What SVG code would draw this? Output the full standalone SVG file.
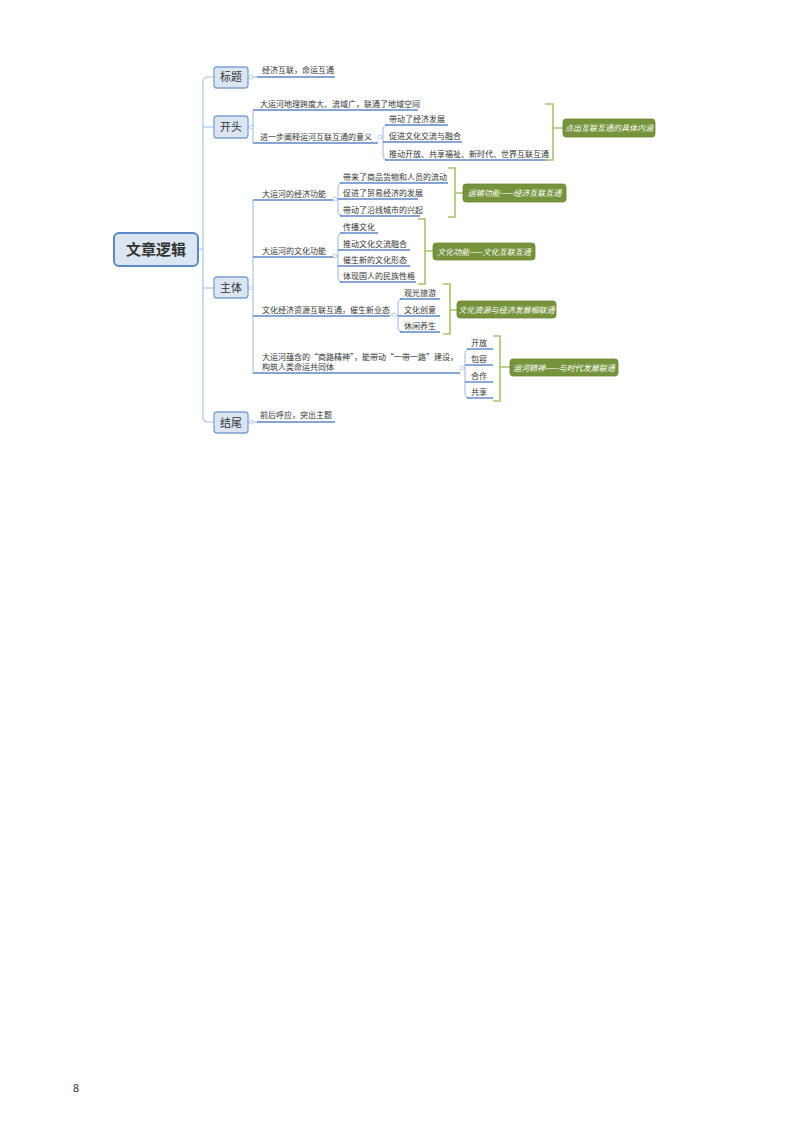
<svg xmlns="http://www.w3.org/2000/svg" width="800" height="1132" viewBox="0 0 800 1132">
<style>
text{font-family:"Noto Sans CJK SC","Noto Sans",sans-serif;fill:#333}
.t{font-size:8px}
.n{font-size:11px;text-anchor:middle}
.l1{fill:#dce6f2;stroke:#7aa0d4;stroke-width:1.3}
.ul{stroke:#5b87c9;stroke-width:1.4;fill:none}
.br{stroke:#a9c3e6;stroke-width:1.2;fill:none}
.gb{stroke:#a8c46c;stroke-width:1.6;fill:none}
.gl{fill:#77933c;stroke:#6a8533;stroke-width:0.8}
.gt{font-size:8px;fill:#fff;font-style:italic;text-anchor:middle}
.c{fill:#fff;stroke:#a9c3e6;stroke-width:0.8}
</style>
<rect width="800" height="1132" fill="#fff"/>
<g id="connectors">
<path class="br" d="M214 77 H208 Q203 77 203 82 V417 Q203 422 208 422 H214"/>
<path class="br" d="M198 249 H203"/>
<path class="br" d="M203 127 H214"/>
<path class="br" d="M203 288 H214"/>
<path class="br" d="M248 77 H257"/>
<path class="br" d="M248 127 H253 M253 110 V143"/>
<path class="br" d="M248 422 H257"/>
<path class="br" d="M248 288 H253 M253 200 V373"/>
<path class="br" d="M378 137 H383 M388 125 Q383 125 383 130 V155 Q383 160 388 160"/>
<path class="br" d="M333 199 H338 M343 183 Q338 183 338 188 V211 Q338 216 343 216"/>
<path class="br" d="M333 256 H338 M343 233 Q338 233 338 238 V277 Q338 282 343 282"/>
<path class="br" d="M390 315 H398 M403 299 Q398 299 398 304 V327 Q398 332 403 332"/>
<path class="br" d="M460 368 H465 M470 349 Q465 349 465 354 V393 Q465 398 470 398"/>
<path class="ul" d="M257 77 H335"/>
<path class="ul" d="M253 110 H418"/>
<path class="ul" d="M253 143 H378"/>
<path class="ul" d="M385 125 H448"/>
<path class="ul" d="M383 142 H462"/>
<path class="ul" d="M385 160 H547"/>
<path class="ul" d="M253 200 H333"/>
<path class="ul" d="M340 183 H448"/>
<path class="ul" d="M338 199 H418"/>
<path class="ul" d="M340 216 H420"/>
<path class="ul" d="M253 257 H333"/>
<path class="ul" d="M340 233 H378"/>
<path class="ul" d="M338 250 H410"/>
<path class="ul" d="M338 266 H410"/>
<path class="ul" d="M340 282 H416"/>
<path class="ul" d="M253 316 H390"/>
<path class="ul" d="M400 299 H440"/>
<path class="ul" d="M398 316 H440"/>
<path class="ul" d="M400 332 H440"/>
<path class="ul" d="M253 373 H460"/>
<path class="ul" d="M467 349 H493"/>
<path class="ul" d="M465 365 H493"/>
<path class="ul" d="M465 382 H493"/>
<path class="ul" d="M467 398 H493"/>
<path class="ul" d="M257 422 H335"/>
<path class="gb" d="M545 104 H553 V160 H545 M553 128 H563"/>
<path class="gb" d="M448 168 H455 V217 H448 M455 193 H463"/>
<path class="gb" d="M418 219 H425 V284 H418 M425 251 H433"/>
<path class="gb" d="M443 284 H450 V334 H443 M450 310 H457"/>
<path class="gb" d="M493 336 H500 V401 H493 M500 367 H510"/>
<circle class="c" cx="251" cy="77" r="2"/>
<circle class="c" cx="251" cy="127" r="2"/>
<circle class="c" cx="251" cy="288" r="2"/>
<circle class="c" cx="251" cy="422" r="2"/>
<circle class="c" cx="380" cy="137" r="2"/>
<circle class="c" cx="335" cy="199" r="2"/>
<circle class="c" cx="335" cy="256" r="2"/>
<circle class="c" cx="394" cy="315" r="2"/>
<circle class="c" cx="462" cy="368" r="2"/>
</g>
<g id="root">
<rect x="114" y="233" width="84" height="33" rx="5" fill="#dce6f2" stroke="#5b87c9" stroke-width="2"/>
<text x="156" y="255" font-size="15" font-weight="bold" text-anchor="middle" fill="#1f3864">文章逻辑</text>
</g>
<g id="n-title">
<rect class="l1" x="214" y="67" width="34" height="21" rx="3"/>
<text class="n" x="231" y="81">标题</text>
<text class="t" x="262" y="73">经济互联，命运互通</text>
</g>
<g id="n-open">
<rect class="l1" x="214" y="116" width="34" height="22" rx="3"/>
<text class="n" x="231" y="131">开头</text>
<text class="t" x="260" y="107">大运河地理跨度大、流域广，联通了地域空间</text>
<text class="t" x="260" y="140">进一步阐释运河互联互通的意义</text>
<text class="t" x="389" y="122">带动了经济发展</text>
<text class="t" x="389" y="139">促进文化交流与融合</text>
<text class="t" x="389" y="157">推动开放、共享福祉、新时代、世界互联互通</text>
<rect class="gl" x="563" y="119" width="92" height="18" rx="3"/>
<text class="gt" x="609" y="131">点出互联互通的具体内涵</text>
</g>
<g id="n-body">
<rect class="l1" x="214" y="277" width="34" height="21" rx="3"/>
<text class="n" x="231" y="292">主体</text>
<text class="t" x="262" y="197">大运河的经济功能</text>
<text class="t" x="343" y="180">带来了商品货物和人员的流动</text>
<text class="t" x="343" y="196">促进了贸易经济的发展</text>
<text class="t" x="343" y="213">带动了沿线城市的兴起</text>
<rect class="gl" x="463" y="184" width="103" height="18" rx="3"/>
<text class="gt" x="514.5" y="196">运输功能——经济互联互通</text>
<text class="t" x="262" y="254">大运河的文化功能</text>
<text class="t" x="343" y="230">传播文化</text>
<text class="t" x="343" y="247">推动文化交流融合</text>
<text class="t" x="343" y="263">催生新的文化形态</text>
<text class="t" x="343" y="279">体现国人的民族性格</text>
<rect class="gl" x="433" y="243" width="102" height="17" rx="3"/>
<text class="gt" x="484" y="255">文化功能——文化互联互通</text>
<text class="t" x="262" y="313">文化经济资源互联互通，催生新业态</text>
<text class="t" x="404" y="296">观光旅游</text>
<text class="t" x="404" y="313">文化创意</text>
<text class="t" x="404" y="329">休闲养生</text>
<rect class="gl" x="457" y="301" width="99" height="17" rx="3"/>
<text class="gt" x="506.5" y="313">文化资源与经济发展相联通</text>
<text class="t" x="262" y="360">大运河蕴含的“商路精神”，能带动“一带一路”建设，</text>
<text class="t" x="262" y="370">构筑人类命运共同体</text>
<text class="t" x="471" y="346">开放</text>
<text class="t" x="471" y="362">包容</text>
<text class="t" x="471" y="379">合作</text>
<text class="t" x="471" y="395">共享</text>
<rect class="gl" x="510" y="359" width="108" height="17" rx="3"/>
<text class="gt" x="564" y="371">运河精神——与时代发展联通</text>
</g>
<g id="n-end">
<rect class="l1" x="214" y="412" width="34" height="21" rx="3"/>
<text class="n" x="231" y="427">结尾</text>
<text class="t" x="260" y="418">前后呼应，突出主题</text>
</g>
<text x="73" y="1092" font-size="11" font-family="Liberation Sans, sans-serif">8</text>
</svg>
